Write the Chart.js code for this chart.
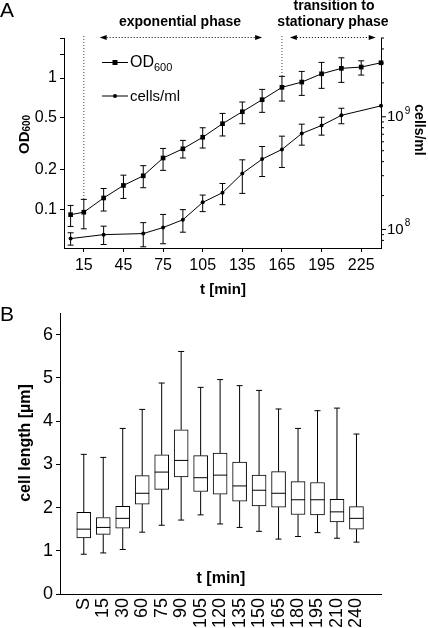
<!DOCTYPE html>
<html lang="en">
<head>
  <meta charset="UTF-8" />
  <title>Growth curve and cell length</title>
  <script src="https://cdn.jsdelivr.net/npm/chart.js@4"></script>
  <style>
    body { margin: 0; background: #fff; }
    #wrap { position: relative; width: 428px; height: 628px; }
    #wrap canvas { position: absolute; left: 0; }
  </style>
</head>
<body>
  <div id="wrap">
    <canvas id="growth" width="428" height="300" style="top:0"></canvas>
    <canvas id="lengths" width="428" height="330" style="top:298px"></canvas>
  </div>

  <script>
    // ---- panel A data ----
    const odTimes = [5, 15, 30, 45, 60, 75, 90, 105, 120, 135, 150, 165, 180, 195, 210, 225, 240];
    const od600   = [0.091, 0.095, 0.122, 0.152, 0.180, 0.246, 0.289, 0.354, 0.449, 0.554, 0.684, 0.850, 0.932, 1.078, 1.186, 1.213, 1.308];
    const odHigh  = [0.107, 0.119, 0.144, 0.182, 0.215, 0.291, 0.335, 0.418, 0.538, 0.657, 0.820, 1.030, 1.124, 1.317, 1.427, 1.354, null];
    const odLow   = [0.074, 0.071, 0.097, 0.121, 0.146, 0.198, 0.246, 0.293, 0.362, 0.449, 0.548, 0.668, 0.738, 0.835, 0.927, 1.054, null];

    const cellTimes  = [5, 30, 60, 75, 90, 105, 120, 135, 150, 165, 180, 195, 210, 240];
    const cellsPerMl = [8.3e7, 9.0e7, 9.2e7, 1.04e8, 1.22e8, 1.74e8, 2.12e8, 3.14e8, 4.21e8, 5.13e8, 7.11e8, 8.37e8, 1.03e9, 1.25e9];
    const cellsHigh  = [9.35e7, 1.07e8, 1.15e8, 1.36e8, 1.50e8, 2.02e8, 2.56e8, 4.15e8, 5.45e8, 6.73e8, 8.6e8, 9.9e8, 1.19e9, null];
    const cellsLow   = [7.26e7, 7.36e7, 7.02e7, 7.47e7, 9.46e7, 1.44e8, 1.66e8, 2.09e8, 2.95e8, 3.55e8, 5.6e8, 6.87e8, 8.67e8, null];

    const timeTicks      = [15, 45, 75, 105, 135, 165, 195, 225];
    const odTicks        = [0.1, 0.2, 0.5, 1, 1.5, 2];
    const odLabelled     = [0.1, 0.2, 0.5, 1];
    const cellMajorTicks = [1e8, 1e9];
    const cellMinorTicks = [8e7, 9e7, 2e8, 3e8, 4e8, 5e8, 6e8, 7e8, 8e8, 9e8, 2e9, 3e9, 4e9, 5e9];

    // ---- panel B data ----
    const lengthCats = ['S', '15', '30', '60', '75', '90', '105', '120', '135', '150', '165', '180', '195', '210', '240'];
    const lenMin    = [0.92, 0.95, 1.03, 1.43, 1.59, 1.71, 1.83, 1.62, 1.54, 1.45, 1.27, 1.33, 1.42, 1.29, 1.20];
    const lenQ1     = [1.30, 1.38, 1.52, 2.08, 2.42, 2.71, 2.37, 2.31, 2.15, 2.04, 2.01, 1.84, 1.83, 1.67, 1.50];
    const lenMedian = [1.50, 1.54, 1.75, 2.33, 2.82, 3.09, 2.69, 2.75, 2.50, 2.40, 2.33, 2.18, 2.18, 1.90, 1.75];
    const lenQ3     = [1.89, 1.77, 2.03, 2.74, 3.22, 3.80, 3.20, 3.26, 3.05, 2.75, 2.83, 2.60, 2.58, 2.19, 2.02];
    const lenMax    = [3.23, 3.16, 3.83, 4.27, 4.88, 5.61, 4.78, 4.96, 4.82, 4.71, 4.28, 3.83, 4.24, 4.30, 3.70];
    const lengthTicks = [0, 1, 2, 3, 4, 5, 6];

    const FONT = '"Liberation Sans", Arial, sans-serif';

    function drawErrorBars(ctx, xs, ys, t, lo, hi) {
      ctx.beginPath();
      for (let i = 0; i < t.length; i++) {
        if (lo[i] == null) continue;
        const px = xs.getPixelForValue(t[i]);
        const top = ys.getPixelForValue(hi[i]);
        const bot = ys.getPixelForValue(lo[i]);
        ctx.moveTo(px, top); ctx.lineTo(px, bot);
        ctx.moveTo(px - 3, top); ctx.lineTo(px + 3, top);
        ctx.moveTo(px - 3, bot); ctx.lineTo(px + 3, bot);
      }
      ctx.stroke();
    }

    function dottedArrow(ctx, x1, x2, y) {
      ctx.save();
      ctx.setLineDash([1, 2]);
      ctx.beginPath(); ctx.moveTo(x1 + 4, y); ctx.lineTo(x2 - 4, y); ctx.stroke();
      ctx.setLineDash([]);
      ctx.beginPath();
      ctx.moveTo(x1, y); ctx.lineTo(x1 + 7, y - 2.5); ctx.lineTo(x1 + 7, y + 2.5); ctx.closePath();
      ctx.moveTo(x2, y); ctx.lineTo(x2 - 7, y - 2.5); ctx.lineTo(x2 - 7, y + 2.5); ctx.closePath();
      ctx.fill();
      ctx.restore();
    }

    const growthDecor = {
      id: 'growthDecor',
      afterDatasetsDraw(chart) {
        const { ctx, chartArea, scales: { x, y, y2 } } = chart;
        ctx.save();
        ctx.strokeStyle = '#000';
        ctx.fillStyle = '#000';
        ctx.lineWidth = 1;

        drawErrorBars(ctx, x, y, odTimes, odLow, odHigh);
        drawErrorBars(ctx, x, y2, cellTimes, cellsLow, cellsHigh);

        // right axis ticks + labels
        const r = chartArea.right;
        ctx.beginPath();
        cellMinorTicks.forEach(v => { const py = y2.getPixelForValue(v); ctx.moveTo(r, py); ctx.lineTo(r + 3, py); });
        cellMajorTicks.forEach(v => { const py = y2.getPixelForValue(v); ctx.moveTo(r, py); ctx.lineTo(r + 5, py); });
        ctx.stroke();
        ctx.textAlign = 'left';
        ctx.textBaseline = 'middle';
        cellMajorTicks.forEach(v => {
          const py = y2.getPixelForValue(v);
          ctx.font = '15px ' + FONT;
          ctx.fillText('10', r + 6, py);
          const w = ctx.measureText('10').width;
          ctx.font = '10px ' + FONT;
          ctx.fillText(String(Math.round(Math.log10(v))), r + 7 + w, py - 6);
        });

        // dotted phase markers
        ctx.save();
        ctx.strokeStyle = '#444';
        ctx.setLineDash([1, 2]);
        ctx.beginPath();
        [15, 165].forEach(t => {
          const px = x.getPixelForValue(t);
          ctx.moveTo(px, 36);
          ctx.lineTo(px, y.getPixelForValue(odHigh[odTimes.indexOf(t)]));
        });
        ctx.stroke();
        ctx.restore();
        dottedArrow(ctx, x.getPixelForValue(27), x.getPixelForValue(150), 37.5);
        dottedArrow(ctx, x.getPixelForValue(171), x.getPixelForValue(236), 37.5);

        // legend
        ctx.beginPath();
        ctx.moveTo(102, 62.5); ctx.lineTo(128, 62.5);
        ctx.moveTo(102, 96); ctx.lineTo(128, 96);
        ctx.stroke();
        ctx.fillRect(112.5, 60, 5, 5);
        ctx.beginPath(); ctx.arc(115, 96, 2, 0, Math.PI * 2); ctx.fill();
        ctx.textBaseline = 'alphabetic';
        ctx.font = '16px ' + FONT;
        ctx.fillText('OD', 130, 67);
        const odW = ctx.measureText('OD').width;
        ctx.font = '11px ' + FONT;
        ctx.fillText('600', 130 + odW, 70.5);
        ctx.font = '15px ' + FONT;
        ctx.fillText('cells/ml', 130, 101);

        // texts
        ctx.font = '21px ' + FONT;
        ctx.fillText('A', 0, 17);
        ctx.textAlign = 'center';
        ctx.font = 'bold 14px ' + FONT;
        ctx.fillText('exponential phase', 180, 26);
        ctx.fillText('transition to', 334, 9.5);
        ctx.fillText('stationary phase', 333, 26);
        ctx.font = 'bold 15px ' + FONT;
        ctx.fillText('t [min]', 223, 294);

        // OD600 title
        ctx.save();
        ctx.translate(28.5, 154);
        ctx.rotate(-Math.PI / 2);
        ctx.textAlign = 'left';
        ctx.font = 'bold 15px ' + FONT;
        ctx.fillText('OD', 0, 0);
        const w2 = ctx.measureText('OD').width;
        ctx.font = 'bold 10px ' + FONT;
        ctx.fillText('600', w2, 1);
        ctx.restore();

        // cells/ml title
        ctx.save();
        ctx.translate(414.5, 130);
        ctx.rotate(Math.PI / 2);
        ctx.textAlign = 'center';
        ctx.font = 'bold 14px ' + FONT;
        ctx.fillText('cells/ml', 0, 0);
        ctx.restore();

        ctx.restore();
      }
    };

    new Chart(document.getElementById('growth'), {
      type: 'line',
      data: {
        datasets: [{
          label: 'OD600',
          data: odTimes.map((t, i) => ({ x: t, y: od600[i] })),
          yAxisID: 'y',
          borderColor: '#000',
          borderWidth: 1,
          pointStyle: 'rect',
          pointRadius: 3.3,
          pointBackgroundColor: '#000',
          pointBorderWidth: 0,
          clip: false
        }, {
          label: 'cells/ml',
          data: cellTimes.map((t, i) => ({ x: t, y: cellsPerMl[i] })),
          yAxisID: 'y2',
          borderColor: '#000',
          borderWidth: 1,
          pointStyle: 'circle',
          pointRadius: 2,
          pointBackgroundColor: '#000',
          pointBorderWidth: 0,
          clip: false
        }]
      },
      options: {
        responsive: false,
        animation: false,
        events: [],
        layout: { padding: { top: 38, left: 0, right: 0, bottom: 0 } },
        plugins: { legend: { display: false }, tooltip: { enabled: false } },
        scales: {
          x: {
            type: 'linear', min: 0, max: 240,
            afterBuildTicks: s => { s.ticks = timeTicks.map(v => ({ value: v })); },
            afterFit: s => { s.height = 52; },
            grid: { drawOnChartArea: false, tickLength: 4, color: '#000' },
            border: { color: '#000' },
            ticks: { color: '#000', font: { family: FONT, size: 16 }, padding: 4, maxRotation: 0, autoSkip: false }
          },
          y: {
            type: 'logarithmic', position: 'left', min: 0.0507, max: 2.02,
            afterBuildTicks: s => { s.ticks = odTicks.map(v => ({ value: v })); },
            afterFit: s => { s.width = 64; },
            grid: { drawOnChartArea: false, tickLength: 4, color: '#000' },
            border: { color: '#000' },
            ticks: {
              color: '#000', font: { family: FONT, size: 16 }, padding: 3,
              callback: v => odLabelled.includes(v) ? String(v) : ''
            }
          },
          y2: {
            type: 'logarithmic', position: 'right', min: 6.85e7, max: 5e9,
            afterBuildTicks: s => { s.ticks = cellMajorTicks.map(v => ({ value: v })); },
            afterFit: s => { s.width = 47; },
            grid: { display: false, drawTicks: false },
            border: { color: '#000' },
            ticks: { display: false }
          }
        }
      },
      plugins: [growthDecor]
    });

    const boxDecor = {
      id: 'boxDecor',
      afterDatasetsDraw(chart) {
        const { ctx, scales: { x, y } } = chart;
        ctx.save();
        ctx.strokeStyle = '#000';
        ctx.fillStyle = '#000';
        ctx.lineWidth = 1;
        ctx.beginPath();
        lengthCats.forEach((c, i) => {
          const px = x.getPixelForValue(i);
          const yMin = y.getPixelForValue(lenMin[i]);
          const yQ1 = y.getPixelForValue(lenQ1[i]);
          const yMed = y.getPixelForValue(lenMedian[i]);
          const yQ3 = y.getPixelForValue(lenQ3[i]);
          const yMax = y.getPixelForValue(lenMax[i]);
          ctx.moveTo(px, yQ3); ctx.lineTo(px, yMax);
          ctx.moveTo(px - 3, yMax); ctx.lineTo(px + 3, yMax);
          ctx.moveTo(px, yQ1); ctx.lineTo(px, yMin);
          ctx.moveTo(px - 3, yMin); ctx.lineTo(px + 3, yMin);
          ctx.moveTo(px - 7, yMed); ctx.lineTo(px + 7, yMed);
        });
        ctx.stroke();

        ctx.textAlign = 'left';
        ctx.font = '21px ' + FONT;
        ctx.fillText('B', 0, 23);
        ctx.textAlign = 'center';
        ctx.font = 'bold 16px ' + FONT;
        ctx.fillText('t [min]', 221, 285);
        ctx.save();
        ctx.translate(30, 145);
        ctx.rotate(-Math.PI / 2);
        ctx.fillText('cell length [\u00b5m]', 0, 0);
        ctx.restore();
        ctx.restore();
      }
    };

    new Chart(document.getElementById('lengths'), {
      type: 'bar',
      data: {
        datasets: [{
          label: 'cell length',
          data: lengthCats.map((c, i) => ({ x: i, y: [lenQ1[i], lenQ3[i]] })),
          backgroundColor: '#fff',
          borderColor: '#000',
          borderWidth: 1,
          borderSkipped: false,
          barThickness: 14
        }]
      },
      options: {
        responsive: false,
        animation: false,
        events: [],
        layout: { padding: { top: 15, left: 0, right: 47, bottom: 0 } },
        plugins: { legend: { display: false }, tooltip: { enabled: false } },
        scales: {
          x: {
            type: 'linear', min: -0.671, max: 14.71,
            afterBuildTicks: s => { s.ticks = lengthCats.map((c, i) => ({ value: i })); },
            afterFit: s => { s.height = 34; },
            grid: { display: false, drawTicks: false },
            border: { color: '#000' },
            ticks: {
              color: '#000', font: { family: FONT, size: 18 }, padding: 4,
              minRotation: 90, maxRotation: 90, autoSkip: false,
              callback: v => lengthCats[v]
            }
          },
          y: {
            min: 0, max: 6.5,
            afterBuildTicks: s => { s.ticks = lengthTicks.map(v => ({ value: v })); },
            afterFit: s => { s.width = 60; },
            grid: { drawOnChartArea: false, tickLength: 4, color: '#000' },
            border: { color: '#000' },
            ticks: { color: '#000', font: { family: FONT, size: 18 }, padding: 3 }
          }
        }
      },
      plugins: [boxDecor]
    });
  </script>
</body>
</html>
